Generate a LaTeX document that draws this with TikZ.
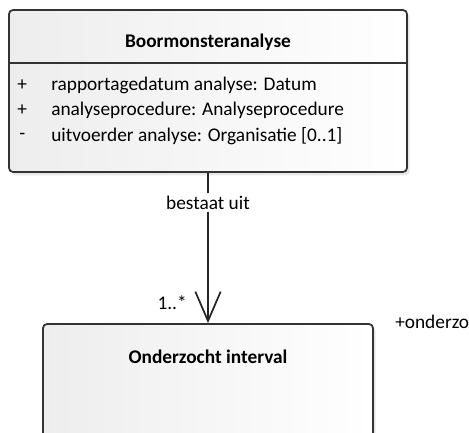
\documentclass[tikz,border=0pt]{standalone}
\usepackage{fontspec}
\setmainfont{Carlito}
\usetikzlibrary{arrows.meta,positioning,shadows}
\tikzset{
    classbox/.style = {draw=black!80, line width=1.3pt, rounded corners=3pt,
        left color=black!7, right color=white,
        drop shadow={shadow xshift=2pt, shadow yshift=-2.5pt, fill=black!18}},
    classname/.style = {font=\fontsize{14.5}{17}\selectfont\bfseries, inner sep=0pt},
    attr/.style = {font=\fontsize{14.5}{17}\selectfont, anchor=west, inner sep=0pt},
    assoc/.style = {draw=black!85, line width=1.3pt,
        -{Straight Barb[length=22pt,width=19pt,line width=1.3pt]}},
    lbl/.style = {font=\fontsize{14.5}{17}\selectfont, fill=white, inner sep=2pt}
}

\begin{document}
\begin{tikzpicture}[x=0.75pt,y=-0.75pt]
        \useasboundingbox (0,0) rectangle (469,433);
        \clip (0,0) rectangle (469,433);
        % classes
        \node [classbox, minimum width=298.5pt, minimum height=121.5pt] (analyse) at (208,91) {};
        \node [classbox, minimum width=247.5pt, minimum height=150pt] (interval) at (208,424) {};
        \coordinate (div) at (0,63);
        \draw [black!80, line width=1.3pt] (analyse.west |- div) -- (analyse.east |- div);
        \node [classname] (analysetitle) at (208,42) {Boormonsteranalyse};
        \node [classname] (intervaltitle) at (208,357) {Onderzocht interval};
        % attributes
        \node [attr] (vis1) at (17,85) {+};
        \node [attr] (att1) at (51,85) {rapportagedatum analyse: Datum};
        \node [attr] (vis2) at (17,110) {+};
        \node [attr] (att2) at (51,110) {analyseprocedure: Analyseprocedure};
        \node [attr] (vis3) at (19,136) {-};
        \node [attr] (att3) at (51,136) {uitvoerder analyse: Organisatie [0..1]};
        % association
        \draw [assoc] (analyse.south) -- node [lbl, pos=0.2] (assoclbl) {bestaat uit} (interval.north);
        \node [attr, anchor=east] (mult) at (187,303) {1..*};
        \node [attr] (role) at (395,322) {+onderzocht};
    \end{tikzpicture}
\end{document}
